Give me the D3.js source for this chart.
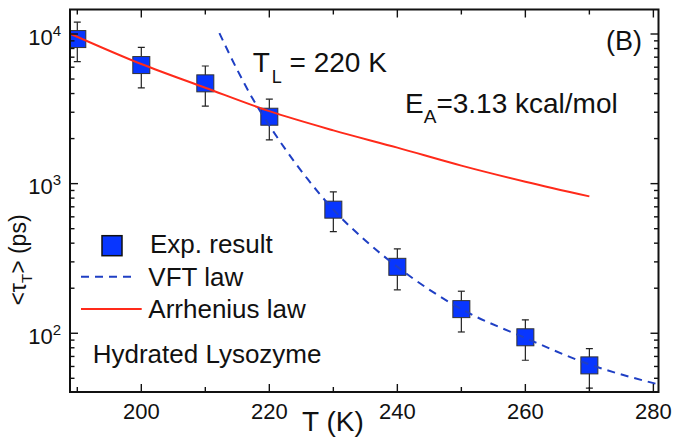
<!DOCTYPE html>
<html>
<head>
<meta charset="utf-8">
<script src="https://cdn.jsdelivr.net/npm/d3@7"></script>
<style>
  html, body { margin: 0; padding: 0; background: #fff; }
  svg { display: block; }
  text { font-family: "Liberation Sans", Arial, Helvetica, sans-serif; fill: #111; }
</style>
</head>
<body>
<svg id="chart" width="675" height="440"></svg>
<script>
// ---------- data ----------
const temps      = [190, 200, 210, 220, 230, 240, 250, 260, 270];
const tauExp     = [9250, 6200, 4680, 2800, 670, 278, 145, 94, 61];
const tauErrHigh = [12000, 8130, 6110, 3670, 880, 366, 191, 123, 79];
const tauErrLow  = [6530, 4360, 3300, 1960, 478, 195, 102, 66, 43];

const arrhT   = [188.9, 200, 210, 220, 230, 240, 250, 260, 270];
const arrhTau = [10050, 6300, 4370, 3050, 2270, 1740, 1320, 1030, 822];

const vftT   = [212.2, 215, 217.5, 220, 222.5, 226, 230, 235, 240, 250, 260, 270, 280.8];
const vftTau = [10140, 5750, 3630, 2450, 1700, 1070, 670, 417, 278, 145, 93, 62, 45.5];

const xTicksMajor = [200, 220, 240, 260, 280];
const xTicksMinor = [190, 210, 230, 250, 270];
const yTicksMajor = [100, 1000, 10000];
const yTickExp    = ["2", "3", "4"];

const legendLabels = ["Exp. result", "VFT law", "Arrhenius law"];

// ---------- layout ----------
const L = 70, R = 658.5, T = 9.5, B = 392;
const svg = d3.select("#chart");

const x = d3.scaleLinear().domain([188.86, 280.8]).range([L, R]);
const y = d3.scaleLog().domain([40.5, 14580]).range([B, T]);

const blue = "#0836ff", dashBlue = "#1f3fc4", red = "#ff2a1a";

svg.append("defs").append("clipPath").attr("id", "clip")
  .append("rect").attr("x", L).attr("y", T).attr("width", R - L).attr("height", B - T);

const plot = svg.append("g").attr("clip-path", "url(#clip)");

// error bars
const pts = temps.map((t, i) => ({t, v: tauExp[i], hi: tauErrHigh[i], lo: tauErrLow[i]}));
const eb = plot.append("g").attr("stroke", "#222").attr("stroke-width", 1.2).attr("fill", "none");
pts.forEach(d => {
  const cx = x(d.t);
  eb.append("line").attr("x1", cx).attr("x2", cx).attr("y1", y(d.hi)).attr("y2", y(d.lo));
  eb.append("line").attr("x1", cx - 3.5).attr("x2", cx + 3.5).attr("y1", y(d.hi)).attr("y2", y(d.hi));
  eb.append("line").attr("x1", cx - 3.5).attr("x2", cx + 3.5).attr("y1", y(d.lo)).attr("y2", y(d.lo));
});

// squares
const S = 17;
plot.append("g").selectAll("rect").data(pts).join("rect")
  .attr("x", d => x(d.t) - S / 2).attr("y", d => y(d.v) - S / 2)
  .attr("width", S).attr("height", S)
  .attr("fill", blue).attr("stroke", "#333").attr("stroke-width", 1);

// lines
const line = d3.line().x(d => x(d[0])).y(d => y(d[1])).curve(d3.curveMonotoneX);
plot.append("path").datum(arrhT.map((t, i) => [t, arrhTau[i]]))
  .attr("d", line).attr("fill", "none").attr("stroke", red).attr("stroke-width", 2);
plot.append("path").datum(vftT.map((t, i) => [t, vftTau[i]]))
  .attr("d", line).attr("fill", "none").attr("stroke", dashBlue).attr("stroke-width", 2)
  .attr("stroke-dasharray", "8,6");

// ---------- axes ----------
const ax = svg.append("g").attr("stroke", "#111").attr("fill", "none");
// x ticks bottom & top (inward)
xTicksMajor.forEach(t => {
  ax.append("line").attr("x1", x(t)).attr("x2", x(t)).attr("y1", B).attr("y2", B - 8).attr("stroke-width", 1.4);
  ax.append("line").attr("x1", x(t)).attr("x2", x(t)).attr("y1", T).attr("y2", T + 8).attr("stroke-width", 1.4);
});
xTicksMinor.forEach(t => {
  ax.append("line").attr("x1", x(t)).attr("x2", x(t)).attr("y1", B).attr("y2", B - 5).attr("stroke-width", 1.4);
  ax.append("line").attr("x1", x(t)).attr("x2", x(t)).attr("y1", T).attr("y2", T + 5).attr("stroke-width", 1.4);
});
// y ticks left & right
const yMinor = [];
[10, 100, 1000].forEach(dec => { for (let k = 2; k <= 9; k++) { const v = dec * k; if (v > 40.5 && v < 14580) yMinor.push(v); } });
yTicksMajor.forEach(v => {
  ax.append("line").attr("x1", L).attr("x2", L + 8).attr("y1", y(v)).attr("y2", y(v)).attr("stroke-width", 1.4);
  ax.append("line").attr("x1", R).attr("x2", R - 8).attr("y1", y(v)).attr("y2", y(v)).attr("stroke-width", 1.4);
});
yMinor.forEach(v => {
  ax.append("line").attr("x1", L).attr("x2", L + 4.5).attr("y1", y(v)).attr("y2", y(v)).attr("stroke-width", 1.4);
  ax.append("line").attr("x1", R).attr("x2", R - 4.5).attr("y1", y(v)).attr("y2", y(v)).attr("stroke-width", 1.4);
});
// frame
svg.append("rect").attr("x", L).attr("y", T).attr("width", R - L).attr("height", B - T)
  .attr("fill", "none").attr("stroke", "#111").attr("stroke-width", 2);

// tick labels
svg.append("g").selectAll("text").data(xTicksMajor).join("text")
  .attr("x", d => x(d)).attr("y", 419.3).attr("text-anchor", "middle")
  .attr("font-size", 22).text(d => d);

yTicksMajor.forEach((v, i) => {
  const t = svg.append("text").attr("x", 61).attr("y", y(v) + 10.5).attr("text-anchor", "end").attr("font-size", 22);
  t.append("tspan").text("10");
  t.append("tspan").attr("font-size", 15).attr("dy", -9).text(yTickExp[i]);
});

// axis titles
svg.append("text").attr("x", 302).attr("y", 431).attr("font-size", 28).text("T (K)");
const yt = svg.append("text").attr("transform", "translate(26,260) rotate(-90)")
  .attr("text-anchor", "middle").attr("font-size", 23);
yt.append("tspan").text("<τ");
yt.append("tspan").attr("font-size", 15).attr("dy", 6).text("T");
yt.append("tspan").attr("dy", -6).text("> (ps)");

// annotations
const tl = svg.append("text").attr("x", 252.7).attr("y", 71.7).attr("font-size", 28);
tl.append("tspan").text("T");
tl.append("tspan").attr("font-size", 18).attr("dy", 11).attr("dx", 2).text("L");
tl.append("tspan").attr("dy", -11).text(" = 220 K");

const ea = svg.append("text").attr("x", 405).attr("y", 113.3).attr("font-size", 28);
ea.append("tspan").text("E");
ea.append("tspan").attr("font-size", 19).attr("dy", 10).text("A");
ea.append("tspan").attr("dy", -10).text("=3.13 kcal/mol");

svg.append("text").attr("x", 606).attr("y", 50).attr("font-size", 27).text("(B)");

// legend
svg.append("rect").attr("x", 102).attr("y", 235.7).attr("width", 20).attr("height", 20)
  .attr("fill", blue).attr("stroke", "#111").attr("stroke-width", 1.5);
svg.append("line").attr("x1", 81).attr("x2", 137).attr("y1", 276.7).attr("y2", 276.7)
  .attr("stroke", dashBlue).attr("stroke-width", 2).attr("stroke-dasharray", "8,6");
svg.append("line").attr("x1", 81).attr("x2", 141.7).attr("y1", 309).attr("y2", 309)
  .attr("stroke", red).attr("stroke-width", 2);
const legY = [253.3, 286, 318.3], legX = [150, 148.3, 148.3];
legendLabels.forEach((s, i) => {
  svg.append("text").attr("x", legX[i]).attr("y", legY[i]).attr("font-size", 26).text(s);
});
svg.append("text").attr("x", 92.7).attr("y", 363.3).attr("font-size", 26).text("Hydrated Lysozyme");
</script>
</body>
</html>
